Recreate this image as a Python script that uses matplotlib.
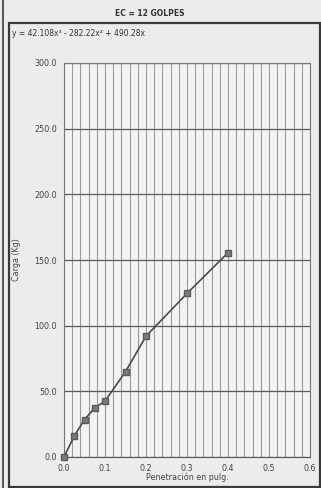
import matplotlib
matplotlib.use("Agg")
import matplotlib.pyplot as plt
import numpy as np

penetration = [0.0, 0.025, 0.05, 0.075, 0.1, 0.15, 0.2, 0.3, 0.4]
load = [0.0, 16.0, 28.5, 37.5, 42.5, 65.0, 92.0, 124.5, 155.5]
x_ticks = [0.0, 0.1, 0.2, 0.3, 0.4, 0.5, 0.6]
y_ticks = [0, 50, 100, 150, 200, 250, 300]
title = "EC = 12 GOLPES"
equation = "y = 42.108x³ - 282.22x² + 490.28x"
xlabel = "Penetración en pulg."
ylabel = "Carga (Kg)"

W, H = 321, 488
fig = plt.figure(figsize=(W / 100, H / 100), dpi=100, facecolor="#ececec")

def fx(px):
    return px / W

def fy(py):
    return 1 - py / H

ax = fig.add_axes([fx(64), fy(457), fx(310) - fx(64), fy(63) - fy(457)])
ax.set_facecolor("#f3f3f3")
ax.set_xlim(0, 0.6)
ax.set_ylim(0, 300)
ax.set_xticks(x_ticks)
ax.set_xticklabels([f"{v:.1f}" for v in x_ticks])
ax.set_yticks(y_ticks)
ax.set_yticklabels([f"{v:.1f}" for v in y_ticks])
ax.set_xticks(np.arange(0, 0.6001, 0.02), minor=True)
ax.grid(True, which="minor", axis="x", color="#9a9a9a", lw=0.8)
ax.grid(True, which="major", axis="x", color="#9a9a9a", lw=0.8)
ax.grid(True, which="major", axis="y", color="#5a5a5a", lw=0.9)
ax.tick_params(axis="both", which="both", length=0, labelsize=5.8, colors="#444444", pad=5)
for s in ax.spines.values():
    s.set_color("#777777")
    s.set_linewidth(0.8)
ax.spines["bottom"].set_color("#555555")

ax.plot(penetration, load, color="#4a4a4a", lw=1.2, marker="s", ms=4.5,
        mfc="#7a7a7a", mec="#5a5a5a", zorder=3, clip_on=False)

ax.set_xlabel(xlabel, fontsize=5.8, color="#444444", labelpad=0)
ax.set_ylabel(ylabel, fontsize=5.8, color="#444444")
ax.yaxis.set_label_coords(-0.175, 0.5)

# outer frame
frame = plt.Rectangle((fx(9), fy(487)), fx(320) - fx(9), fy(23) - fy(487),
                      transform=fig.transFigure, fill=False, ec="#3a3a3a", lw=1.6)
fig.add_artist(frame)
fig.add_artist(plt.Line2D([fx(3), fx(3)], [fy(0), fy(488)], transform=fig.transFigure,
                          color="#3a3a3a", lw=1.2))

fig.text(fx(150), fy(13), title, fontsize=5.5, fontweight="bold", ha="center", va="center",
         color="#333333")
fig.text(fx(12), fy(34), equation, fontsize=5.5, ha="left", va="center", color="#333333")

fig.savefig("out.png", dpi=100, facecolor=fig.get_facecolor())
